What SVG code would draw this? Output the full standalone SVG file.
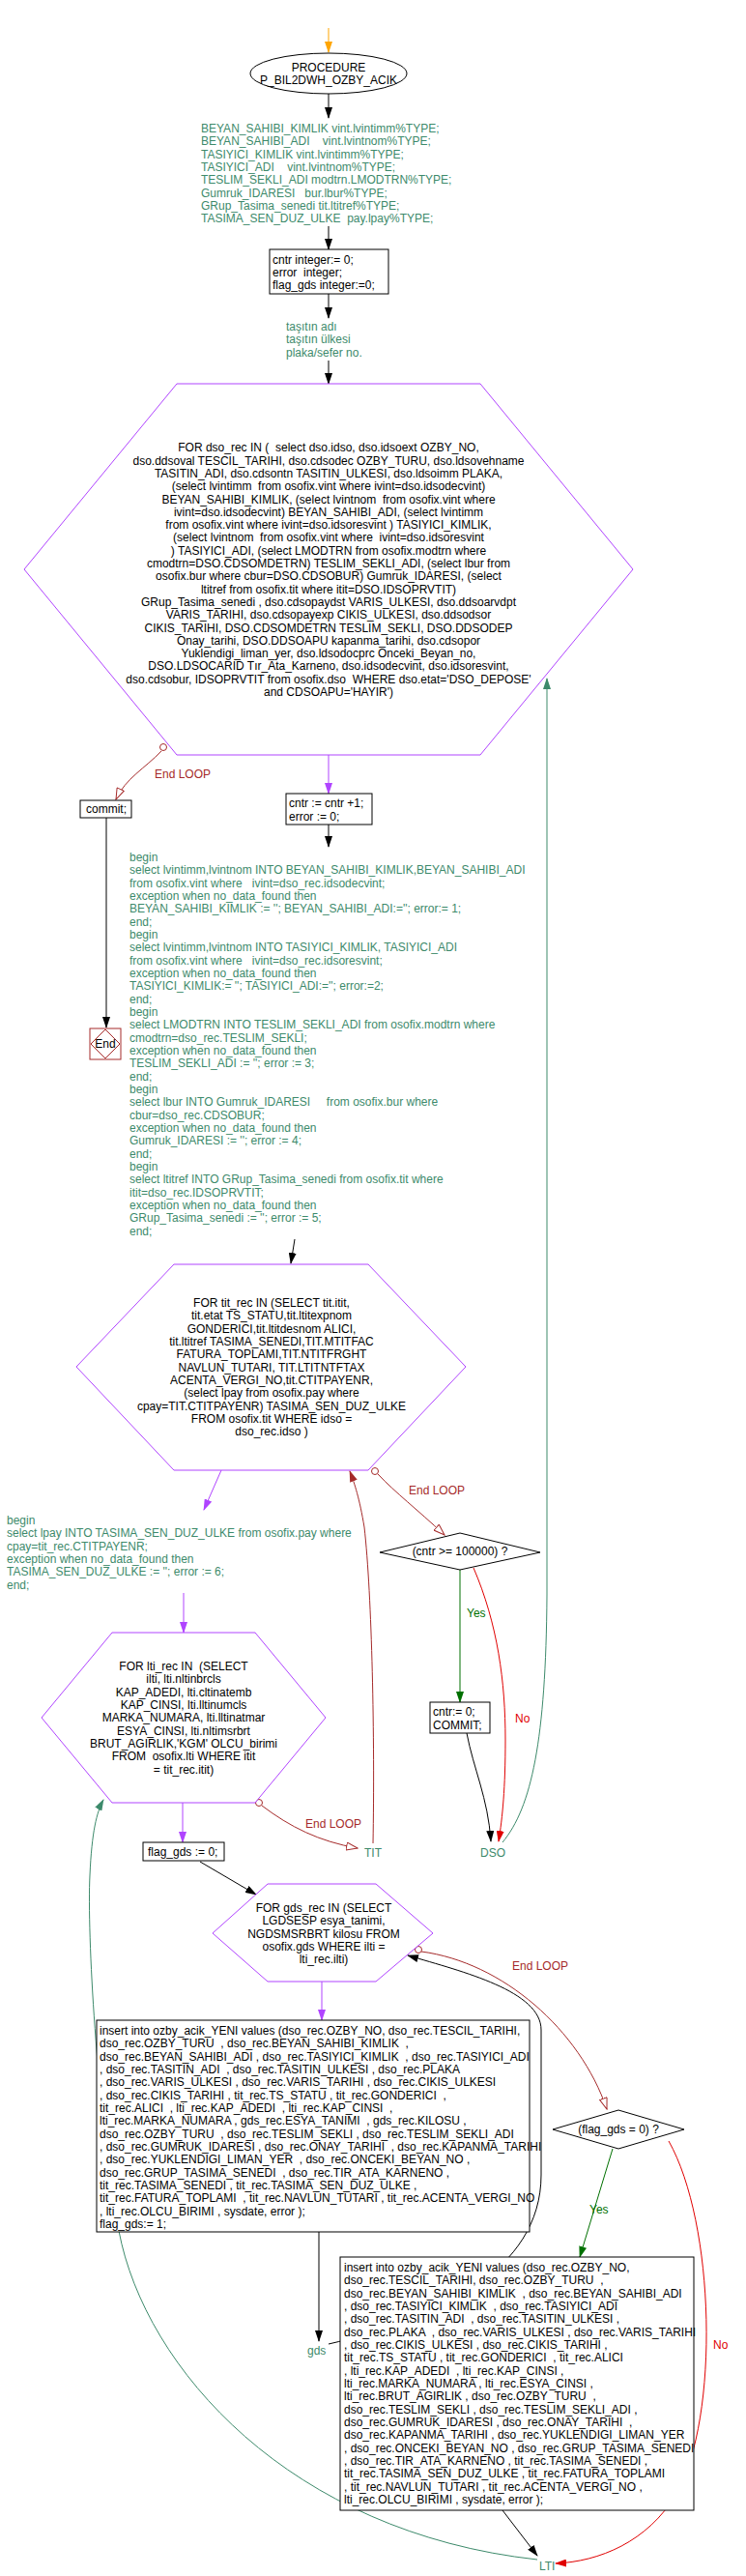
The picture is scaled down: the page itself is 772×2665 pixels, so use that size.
<svg xmlns="http://www.w3.org/2000/svg" width="772" height="2665" viewBox="0 0 772 2665">
<style>
text{font-family:"Liberation Sans",Arial,sans-serif;font-size:12px;white-space:pre;fill:#000}
.g{fill:#3d8a6b}
.br{fill:#a52a2a}
.rd{fill:#e00000}
.yes{fill:#007000}
.c{text-anchor:middle}
.box{fill:#fff;stroke:#000;stroke-width:1}
.hex{fill:#fff;stroke:#b044ff;stroke-width:1}
.k{stroke:#000;fill:none;stroke-width:1}
.p{stroke:#b044ff;fill:none;stroke-width:1}
.b{stroke:#a52a2a;fill:none;stroke-width:1}
.t{stroke:#3d8a6b;fill:none;stroke-width:1}
.r{stroke:#e00000;fill:none;stroke-width:1}
.y{stroke:#007000;fill:none;stroke-width:1}
</style>
<defs>
<marker id="ak" markerUnits="userSpaceOnUse" markerWidth="12" markerHeight="8" refX="11" refY="4" orient="auto"><path d="M0,0 L12,4 L0,8 z" fill="#000"/></marker>
<marker id="ap" markerUnits="userSpaceOnUse" markerWidth="12" markerHeight="8" refX="11" refY="4" orient="auto"><path d="M0,0 L12,4 L0,8 z" fill="#b044ff"/></marker>
<marker id="ao" markerUnits="userSpaceOnUse" markerWidth="12" markerHeight="8" refX="11" refY="4" orient="auto"><path d="M0,0 L12,4 L0,8 z" fill="#ffa500"/></marker>
<marker id="ab" markerUnits="userSpaceOnUse" markerWidth="12" markerHeight="8" refX="11" refY="4" orient="auto"><path d="M0,0 L12,4 L0,8 z" fill="#a52a2a"/></marker>
<marker id="ah" markerUnits="userSpaceOnUse" markerWidth="13" markerHeight="9" refX="12" refY="4.5" orient="auto"><path d="M0.5,0.5 L12,4.5 L0.5,8.5 z" fill="#fff" stroke="#a52a2a"/></marker>
<marker id="at" markerUnits="userSpaceOnUse" markerWidth="12" markerHeight="8" refX="11" refY="4" orient="auto"><path d="M0,0 L12,4 L0,8 z" fill="#3d8a6b"/></marker>
<marker id="ar" markerUnits="userSpaceOnUse" markerWidth="12" markerHeight="8" refX="11" refY="4" orient="auto"><path d="M0,0 L12,4 L0,8 z" fill="#e00000"/></marker>
<marker id="ay" markerUnits="userSpaceOnUse" markerWidth="12" markerHeight="8" refX="11" refY="4" orient="auto"><path d="M0,0 L12,4 L0,8 z" fill="#007000"/></marker>
</defs>
<rect width="772" height="2665" fill="#fff"/>

<g id="connectors">
<line class="k" x1="340" y1="29" x2="340" y2="54" style="stroke:#ffa500" marker-end="url(#ao)"/>
<line class="k" x1="340" y1="97" x2="340" y2="122" marker-end="url(#ak)"/>
<line class="k" x1="340" y1="234" x2="340" y2="258" marker-end="url(#ak)"/>
<line class="k" x1="340" y1="304" x2="340" y2="329" marker-end="url(#ak)"/>
<line class="k" x1="340" y1="373" x2="340" y2="397" marker-end="url(#ak)"/>
<line class="p" x1="340" y1="781" x2="340" y2="821" marker-end="url(#ap)"/>
<line class="k" x1="340" y1="853" x2="340" y2="876" marker-end="url(#ak)"/>
<path class="b" d="M167,777 C150,795 130,805 120,827" marker-end="url(#ah)"/>
<line class="k" x1="110" y1="846" x2="110" y2="1063" marker-end="url(#ak)"/>
<line class="k" x1="305" y1="1282" x2="301" y2="1307" marker-end="url(#ak)"/>
<line class="p" x1="229" y1="1521" x2="211" y2="1562" marker-end="url(#ap)"/>
<line class="p" x1="190" y1="1648" x2="190" y2="1689" marker-end="url(#ap)"/>
<line class="p" x1="189" y1="1865" x2="189" y2="1906" marker-end="url(#ap)"/>
<line class="k" x1="207" y1="1926" x2="265" y2="1960" marker-end="url(#ak)"/>
<line class="p" x1="333" y1="2050" x2="333" y2="2090" marker-end="url(#ap)"/>
<path class="b" d="M391,1525 C410,1545 430,1560 460,1588" marker-end="url(#ah)"/>
<line class="y" x1="476" y1="1624" x2="476" y2="1761" marker-end="url(#ay)"/>
<path class="r" d="M490,1622 C515,1680 523,1740 523,1800 C523,1850 520,1880 516,1905" marker-end="url(#ar)"/>
<path class="k" d="M483,1793 C490,1830 505,1860 508,1905" marker-end="url(#ak)"/>
<path class="t" d="M520,1906 C550,1870 565,1800 566,1650 L566,702" marker-end="url(#at)"/>
<path class="b" d="M271,1868 C300,1890 330,1905 370,1912" marker-end="url(#ah)"/>
<path class="b" d="M386,1907 C388,1800 385,1650 377,1580 C372,1550 367,1535 362,1522" marker-end="url(#ab)"/>
<path class="t" d="M556,2648 C300,2620 150,2450 123,2308 C100,2180 90,2000 93,1940 C95,1895 100,1875 107,1862" marker-end="url(#at)"/>
<path class="b" d="M436,2019 C520,2030 600,2100 628,2182" marker-end="url(#ah)"/>
<line class="k" x1="330" y1="2309" x2="330" y2="2422" marker-end="url(#ak)"/>
<path class="k" d="M340,2425 C450,2400 560,2350 560,2250 L560,2100 C560,2060 480,2040 422,2023" marker-end="url(#ak)"/>
<line class="y" x1="634" y1="2223" x2="600" y2="2335" marker-end="url(#ay)"/>
<path class="r" d="M692,2215 C740,2300 745,2500 700,2580 C670,2630 620,2650 575,2652" marker-end="url(#ar)"/>
<line class="k" x1="520" y1="2597" x2="556" y2="2644" marker-end="url(#ak)"/>
<circle cx="169" cy="773" r="3.5" fill="#fff" stroke="#a52a2a"/>
<circle cx="388" cy="1522" r="3.5" fill="#fff" stroke="#a52a2a"/>
<circle cx="268" cy="1865" r="3.5" fill="#fff" stroke="#a52a2a"/>
<circle cx="433" cy="2017" r="3.5" fill="#fff" stroke="#a52a2a"/>
<text class="br" x="160" y="805">End LOOP</text>
<text class="br" x="423" y="1546">End LOOP</text>
<text class="br" x="316" y="1891">End LOOP</text>
<text class="br" x="530" y="2038">End LOOP</text>
<text class="yes" x="610" y="2290">Yes</text>
<text class="yes" x="483" y="1673">Yes</text>
<text class="rd" x="533" y="1782">No</text>
<text class="rd" x="738" y="2430">No</text>
</g>

<g id="start">
<ellipse cx="340" cy="76" rx="81" ry="21" fill="#fff" stroke="#000"/>
<text class="c" x="340" y="74">PROCEDURE</text>
<text class="c" x="340" y="87">P_BIL2DWH_OZBY_ACIK</text>
</g>

<g id="decl">
<text class="g" x="208" y="137">BEYAN_SAHIBI_KIMLIK vint.lvintimm%TYPE;</text>
<text class="g" x="208" y="150.3">BEYAN_SAHIBI_ADI    vint.lvintnom%TYPE;</text>
<text class="g" x="208" y="163.7">TASIYICI_KIMLIK vint.lvintimm%TYPE;</text>
<text class="g" x="208" y="177">TASIYICI_ADI    vint.lvintnom%TYPE;</text>
<text class="g" x="208" y="190.3">TESLIM_SEKLI_ADI modtrn.LMODTRN%TYPE;</text>
<text class="g" x="208" y="203.7">Gumruk_IDARESI   bur.lbur%TYPE;</text>
<text class="g" x="208" y="217">GRup_Tasima_senedi tit.ltitref%TYPE;</text>
<text class="g" x="208" y="230.3">TASIMA_SEN_DUZ_ULKE  pay.lpay%TYPE;</text>
</g>

<g id="vars">
<rect class="box" x="279" y="258" width="123" height="46"/>
<text x="282" y="273">cntr integer:= 0;</text>
<text x="282" y="286">error  integer;</text>
<text x="282" y="299">flag_gds integer:=0;</text>
</g>

<g id="comment1">
<text class="g" x="296" y="342">taşıtın adı</text>
<text class="g" x="296" y="355">taşıtın ülkesi</text>
<text class="g" x="296" y="369">plaka/sefer no.</text>
</g>

<g id="loop_dso">
<polygon class="hex" points="183,397 497,397 655,589 497,781 183,781 25,589"/>
<text class="c" x="340" y="467.3">FOR dso_rec IN (  select dso.idso, dso.idsoext OZBY_NO,</text>
<text class="c" x="340" y="480.6">dso.ddsoval TESCIL_TARIHI, dso.cdsodec OZBY_TURU, dso.ldsovehname</text>
<text class="c" x="340" y="493.9">TASITIN_ADI, dso.cdsontn TASITIN_ULKESI, dso.ldsoimm PLAKA,</text>
<text class="c" x="340" y="507.2">(select lvintimm  from osofix.vint where ivint=dso.idsodecvint)</text>
<text class="c" x="340" y="520.5">BEYAN_SAHIBI_KIMLIK, (select lvintnom  from osofix.vint where</text>
<text class="c" x="340" y="533.8">ivint=dso.idsodecvint) BEYAN_SAHIBI_ADI, (select lvintimm</text>
<text class="c" x="340" y="547.1">from osofix.vint where ivint=dso.idsoresvint ) TASIYICI_KIMLIK,</text>
<text class="c" x="340" y="560.4">(select lvintnom  from osofix.vint where  ivint=dso.idsoresvint</text>
<text class="c" x="340" y="573.7">) TASIYICI_ADI, (select LMODTRN from osofix.modtrn where</text>
<text class="c" x="340" y="587">cmodtrn=DSO.CDSOMDETRN) TESLIM_SEKLI_ADI, (select lbur from</text>
<text class="c" x="340" y="600.3">osofix.bur where cbur=DSO.CDSOBUR) Gumruk_IDARESI, (select</text>
<text class="c" x="340" y="613.6">ltitref from osofix.tit where itit=DSO.IDSOPRVTIT)</text>
<text class="c" x="340" y="626.9">GRup_Tasima_senedi , dso.cdsopaydst VARIS_ULKESI, dso.ddsoarvdpt</text>
<text class="c" x="340" y="640.2">VARIS_TARIHI, dso.cdsopayexp CIKIS_ULKESI, dso.ddsodsor</text>
<text class="c" x="340" y="653.5">CIKIS_TARIHI, DSO.CDSOMDETRN TESLIM_SEKLI, DSO.DDSODEP</text>
<text class="c" x="340" y="666.8">Onay_tarihi, DSO.DDSOAPU kapanma_tarihi, dso.cdsopor</text>
<text class="c" x="340" y="680.1">Yuklendigi_liman_yer, dso.ldsodocprc Onceki_Beyan_no,</text>
<text class="c" x="340" y="693.4">DSO.LDSOCARID Tır_Ata_Karneno, dso.idsodecvint, dso.idsoresvint,</text>
<text class="c" x="340" y="706.7">dso.cdsobur, IDSOPRVTIT from osofix.dso  WHERE dso.etat='DSO_DEPOSE'</text>
<text class="c" x="340" y="720">and CDSOAPU='HAYIR')</text>
</g>

<g id="commit">
<rect class="box" x="83" y="828" width="53" height="18"/>
<text x="89" y="841">commit;</text>
</g>

<g id="end">
<rect x="93" y="1064" width="32" height="32" fill="#fff" stroke="#a52a2a"/>
<polygon points="109,1065 124,1080 109,1095 94,1080" fill="#fff" stroke="#a52a2a"/>
<text class="c" x="109" y="1084">End</text>
</g>

<g id="cntr_inc">
<rect class="box" x="296" y="821" width="89" height="32"/>
<text x="299" y="835">cntr := cntr +1;</text>
<text x="299" y="849">error := 0;</text>
</g>

<g id="lookups">
<text class="g" x="134" y="891">begin</text>
<text class="g" x="134" y="904.3">select lvintimm,lvintnom INTO BEYAN_SAHIBI_KIMLIK,BEYAN_SAHIBI_ADI</text>
<text class="g" x="134" y="917.7">from osofix.vint where   ivint=dso_rec.idsodecvint;</text>
<text class="g" x="134" y="931">exception when no_data_found then</text>
<text class="g" x="134" y="944.3">BEYAN_SAHIBI_KIMLIK := ''; BEYAN_SAHIBI_ADI:=''; error:= 1;</text>
<text class="g" x="134" y="957.7">end;</text>
<text class="g" x="134" y="971">begin</text>
<text class="g" x="134" y="984.3">select lvintimm,lvintnom INTO TASIYICI_KIMLIK, TASIYICI_ADI</text>
<text class="g" x="134" y="997.7">from osofix.vint where   ivint=dso_rec.idsoresvint;</text>
<text class="g" x="134" y="1011">exception when no_data_found then</text>
<text class="g" x="134" y="1024.3">TASIYICI_KIMLIK:= ''; TASIYICI_ADI:=''; error:=2;</text>
<text class="g" x="134" y="1037.7">end;</text>
<text class="g" x="134" y="1051">begin</text>
<text class="g" x="134" y="1064.3">select LMODTRN INTO TESLIM_SEKLI_ADI from osofix.modtrn where</text>
<text class="g" x="134" y="1077.7">cmodtrn=dso_rec.TESLIM_SEKLI;</text>
<text class="g" x="134" y="1091">exception when no_data_found then</text>
<text class="g" x="134" y="1104.3">TESLIM_SEKLI_ADI := ''; error := 3;</text>
<text class="g" x="134" y="1117.7">end;</text>
<text class="g" x="134" y="1131">begin</text>
<text class="g" x="134" y="1144.3">select lbur INTO Gumruk_IDARESI     from osofix.bur where</text>
<text class="g" x="134" y="1157.7">cbur=dso_rec.CDSOBUR;</text>
<text class="g" x="134" y="1171">exception when no_data_found then</text>
<text class="g" x="134" y="1184.3">Gumruk_IDARESI := ''; error := 4;</text>
<text class="g" x="134" y="1197.7">end;</text>
<text class="g" x="134" y="1211">begin</text>
<text class="g" x="134" y="1224.3">select ltitref INTO GRup_Tasima_senedi from osofix.tit where</text>
<text class="g" x="134" y="1237.7">itit=dso_rec.IDSOPRVTIT;</text>
<text class="g" x="134" y="1251">exception when no_data_found then</text>
<text class="g" x="134" y="1264.3">GRup_Tasima_senedi := ''; error := 5;</text>
<text class="g" x="134" y="1277.7">end;</text>
</g>

<g id="loop_tit">
<polygon class="hex" points="180,1308 381,1308 482,1414 381,1521 180,1521 79,1414"/>
<text class="c" x="281" y="1352">FOR tit_rec IN (SELECT tit.itit,</text>
<text class="c" x="281" y="1365.3">tit.etat TS_STATU,tit.ltitexpnom</text>
<text class="c" x="281" y="1378.7">GONDERICI,tit.ltitdesnom ALICI,</text>
<text class="c" x="281" y="1392">tit.ltitref TASIMA_SENEDI,TIT.MTITFAC</text>
<text class="c" x="281" y="1405.3">FATURA_TOPLAMI,TIT.NTITFRGHT</text>
<text class="c" x="281" y="1418.7">NAVLUN_TUTARI, TIT.LTITNTFTAX</text>
<text class="c" x="281" y="1432">ACENTA_VERGI_NO,tit.CTITPAYENR,</text>
<text class="c" x="281" y="1445.3">(select lpay from osofix.pay where</text>
<text class="c" x="281" y="1458.7">cpay=TIT.CTITPAYENR) TASIMA_SEN_DUZ_ULKE</text>
<text class="c" x="281" y="1472">FROM osofix.tit WHERE idso =</text>
<text class="c" x="281" y="1485.3">dso_rec.idso )</text>
</g>

<g id="lookup_pay">
<text class="g" x="7" y="1577">begin</text>
<text class="g" x="7" y="1590.3">select lpay INTO TASIMA_SEN_DUZ_ULKE from osofix.pay where</text>
<text class="g" x="7" y="1603.7">cpay=tit_rec.CTITPAYENR;</text>
<text class="g" x="7" y="1617">exception when no_data_found then</text>
<text class="g" x="7" y="1630.3">TASIMA_SEN_DUZ_ULKE := ''; error := 6;</text>
<text class="g" x="7" y="1643.7">end;</text>
</g>

<g id="cond_cntr">
<polygon points="393,1606 476,1586 559,1606 476,1624" fill="#fff" stroke="#000"/>
<text class="c" x="476" y="1609">(cntr &gt;= 100000) ?</text>
</g>

<g id="commit2">
<rect class="box" x="445" y="1761" width="62" height="32"/>
<text x="448" y="1775">cntr:= 0;</text>
<text x="448" y="1789">COMMIT;</text>
</g>

<g id="label_dso"><text class="g" x="497" y="1921">DSO</text></g>
<g id="label_tit"><text class="g" x="377" y="1921">TIT</text></g>

<g id="loop_lti">
<polygon class="hex" points="116,1689 264,1689 337,1777 264,1865 116,1865 43,1777"/>
<text class="c" x="190" y="1728">FOR lti_rec IN  (SELECT</text>
<text class="c" x="190" y="1741.3">ilti, lti.nltinbrcls</text>
<text class="c" x="190" y="1754.7">KAP_ADEDI, lti.cltinatemb</text>
<text class="c" x="190" y="1768">KAP_CINSI, lti.lltinumcls</text>
<text class="c" x="190" y="1781.3">MARKA_NUMARA, lti.lltinatmar</text>
<text class="c" x="190" y="1794.7">ESYA_CINSI, lti.nltimsrbrt</text>
<text class="c" x="190" y="1808">BRUT_AGIRLIK,'KGM' OLCU_birimi</text>
<text class="c" x="190" y="1821.3">FROM  osofix.lti WHERE itit</text>
<text class="c" x="190" y="1834.7">= tit_rec.itit)</text>
</g>

<g id="flag0">
<rect class="box" x="148" y="1906" width="84" height="19"/>
<text x="153" y="1920">flag_gds := 0;</text>
</g>

<g id="loop_gds">
<polygon class="hex" points="277,1949 389,1949 448,2000 389,2050 277,2050 220,2000"/>
<text class="c" x="335" y="1978">FOR gds_rec IN (SELECT</text>
<text class="c" x="335" y="1991.3">LGDSESP esya_tanimi,</text>
<text class="c" x="335" y="2004.7">NGDSMSRBRT kilosu FROM</text>
<text class="c" x="335" y="2018">osofix.gds WHERE ilti =</text>
<text class="c" x="335" y="2031.3">lti_rec.ilti)</text>
</g>

<g id="insert1">
<rect class="box" x="100" y="2090" width="448" height="219"/>
<text x="103" y="2105">insert into ozby_acik_YENI values (dso_rec.OZBY_NO, dso_rec.TESCIL_TARIHI,</text>
<text x="103" y="2118.3">dso_rec.OZBY_TURU  , dso_rec.BEYAN_SAHIBI_KIMLIK  ,</text>
<text x="103" y="2131.7">dso_rec.BEYAN_SAHIBI_ADI , dso_rec.TASIYICI_KIMLIK  , dso_rec.TASIYICI_ADI</text>
<text x="103" y="2145">, dso_rec.TASITIN_ADI  , dso_rec.TASITIN_ULKESI , dso_rec.PLAKA</text>
<text x="103" y="2158.3">, dso_rec.VARIS_ULKESI , dso_rec.VARIS_TARIHI , dso_rec.CIKIS_ULKESI</text>
<text x="103" y="2171.7">, dso_rec.CIKIS_TARIHI , tit_rec.TS_STATU , tit_rec.GONDERICI  ,</text>
<text x="103" y="2185">tit_rec.ALICI  , lti_rec.KAP_ADEDI  , lti_rec.KAP_CINSI  ,</text>
<text x="103" y="2198.3">lti_rec.MARKA_NUMARA , gds_rec.ESYA_TANIMI  , gds_rec.KILOSU ,</text>
<text x="103" y="2211.7">dso_rec.OZBY_TURU  , dso_rec.TESLIM_SEKLI , dso_rec.TESLIM_SEKLI_ADI</text>
<text x="103" y="2225">, dso_rec.GUMRUK_IDARESI , dso_rec.ONAY_TARIHI  , dso_rec.KAPANMA_TARIHI</text>
<text x="103" y="2238.3">, dso_rec.YUKLENDIGI_LIMAN_YER  , dso_rec.ONCEKI_BEYAN_NO ,</text>
<text x="103" y="2251.7">dso_rec.GRUP_TASIMA_SENEDI  , dso_rec.TIR_ATA_KARNENO ,</text>
<text x="103" y="2265">tit_rec.TASIMA_SENEDI , tit_rec.TASIMA_SEN_DUZ_ULKE ,</text>
<text x="103" y="2278.3">tit_rec.FATURA_TOPLAMI  , tit_rec.NAVLUN_TUTARI , tit_rec.ACENTA_VERGI_NO</text>
<text x="103" y="2291.7">, lti_rec.OLCU_BIRIMI , sysdate, error );</text>
<text x="103" y="2305">flag_gds:= 1;</text>
</g>

<g id="label_gds"><text class="g" x="318" y="2436">gds</text></g>

<g id="cond_flag">
<polygon points="572,2203 640,2183 708,2203 640,2223" fill="#fff" stroke="#000"/>
<text class="c" x="640" y="2207">(flag_gds = 0) ?</text>
</g>

<g id="insert2">
<rect class="box" x="352" y="2335" width="366" height="262"/>
<text x="356" y="2350">insert into ozby_acik_YENI values (dso_rec.OZBY_NO,</text>
<text x="356" y="2363.3">dso_rec.TESCIL_TARIHI, dso_rec.OZBY_TURU  ,</text>
<text x="356" y="2376.7">dso_rec.BEYAN_SAHIBI_KIMLIK  , dso_rec.BEYAN_SAHIBI_ADI</text>
<text x="356" y="2390">, dso_rec.TASIYICI_KIMLIK  , dso_rec.TASIYICI_ADI</text>
<text x="356" y="2403.3">, dso_rec.TASITIN_ADI  , dso_rec.TASITIN_ULKESI ,</text>
<text x="356" y="2416.7">dso_rec.PLAKA  , dso_rec.VARIS_ULKESI , dso_rec.VARIS_TARIHI</text>
<text x="356" y="2430">, dso_rec.CIKIS_ULKESI , dso_rec.CIKIS_TARIHI ,</text>
<text x="356" y="2443.3">tit_rec.TS_STATU , tit_rec.GONDERICI  , tit_rec.ALICI</text>
<text x="356" y="2456.7">, lti_rec.KAP_ADEDI  , lti_rec.KAP_CINSI ,</text>
<text x="356" y="2470">lti_rec.MARKA_NUMARA , lti_rec.ESYA_CINSI ,</text>
<text x="356" y="2483.3">lti_rec.BRUT_AGIRLIK , dso_rec.OZBY_TURU  ,</text>
<text x="356" y="2496.7">dso_rec.TESLIM_SEKLI , dso_rec.TESLIM_SEKLI_ADI ,</text>
<text x="356" y="2510">dso_rec.GUMRUK_IDARESI , dso_rec.ONAY_TARIHI  ,</text>
<text x="356" y="2523.3">dso_rec.KAPANMA_TARIHI , dso_rec.YUKLENDIGI_LIMAN_YER</text>
<text x="356" y="2536.7">, dso_rec.ONCEKI_BEYAN_NO , dso_rec.GRUP_TASIMA_SENEDI</text>
<text x="356" y="2550">, dso_rec.TIR_ATA_KARNENO , tit_rec.TASIMA_SENEDI ,</text>
<text x="356" y="2563.3">tit_rec.TASIMA_SEN_DUZ_ULKE , tit_rec.FATURA_TOPLAMI</text>
<text x="356" y="2576.7">, tit_rec.NAVLUN_TUTARI , tit_rec.ACENTA_VERGI_NO ,</text>
<text x="356" y="2590">lti_rec.OLCU_BIRIMI , sysdate, error );</text>
</g>

<g id="label_lti"><text class="g" x="558" y="2659">LTI</text></g>
</svg>
